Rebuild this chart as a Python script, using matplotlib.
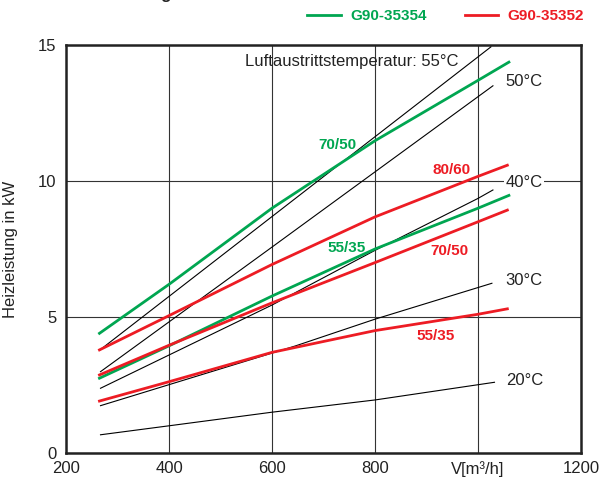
import matplotlib
matplotlib.use("Agg")
import matplotlib.pyplot as plt
from matplotlib.lines import Line2D

plt.rcParams["font.family"] = ["Liberation Sans", "DejaVu Sans"]

# Heating capacity curves (x: air flow m3/h, y: kW)
green_x = [265, 400, 600, 800, 1000, 1060]
green_70_50 = [4.4, 6.2, 9.0, 11.48, 13.7, 14.37]
green_55_35 = [2.75, 3.94, 5.77, 7.5, 9.0, 9.47]

red_x = [265, 400, 600, 800, 1000, 1057]
red_80_60 = [3.79, 5.05, 6.93, 8.68, 10.17, 10.58]
red_70_50 = [2.87, 3.96, 5.52, 7.0, 8.5, 8.93]
red_55_35 = [1.91, 2.62, 3.7, 4.5, 5.1, 5.3]

# Air outlet temperature lines
t55_x, t55 = [266, 1025], [3.79, 14.93]
t50_x, t50 = [267, 592, 1029], [2.99, 7.46, 13.5]
t40_x, t40 = [267, 600, 800, 1000, 1029], [2.38, 5.44, 7.45, 9.36, 9.67]
t30_x, t30 = [267, 646, 800, 1027], [1.74, 3.94, 4.92, 6.24]
t20_x, t20 = [267, 400, 600, 800, 1032], [0.67, 1.0, 1.5, 1.95, 2.6]

x_ticks = [200, 400, 600, 800, 1000, 1200]
x_labels = ["200", "400", "600", "800", "V[m³/h]", "1200"]
y_ticks = [0, 5, 10, 15]

GREEN = "#00a651"
RED = "#ed1c24"

fig = plt.figure(figsize=(6, 4.82), dpi=100)
ax = fig.add_axes([66 / 600, 29 / 482, 515 / 600, 408 / 482])

for xs, ys in [(t55_x, t55), (t50_x, t50), (t40_x, t40), (t30_x, t30), (t20_x, t20)]:
    ax.plot(xs, ys, color="black", lw=0.8, zorder=3)

ax.plot(green_x, green_70_50, color=GREEN, lw=2, zorder=4)
ax.plot(green_x, green_55_35, color=GREEN, lw=2, zorder=4)
ax.plot(red_x, red_80_60, color=RED, lw=2, zorder=4)
ax.plot(red_x, red_70_50, color=RED, lw=2, zorder=4)
ax.plot(red_x, red_55_35, color=RED, lw=2, zorder=4)

ax.set_xlim(200, 1200)
ax.set_ylim(0, 15)
ax.set_xticks(x_ticks)
ax.set_xticklabels(x_labels)
ax.set_yticks(y_ticks)
ax.tick_params(length=0, labelsize=12, colors="#222222")
ax.tick_params(axis="x", pad=6)
ax.tick_params(axis="y", pad=7)
ax.grid(True, color="#333333", lw=0.8, zorder=1)
for s in ax.spines.values():
    s.set_linewidth(1.8)
    s.set_color("#222222")
ax.set_ylabel("Heizleistung in kW", fontsize=12, labelpad=14, color="#222222")

# annotations
ax.text(547, 14.41, "Luftaustrittstemperatur: 55°C", fontsize=12, va="center", color="#222222")
ax.text(1054, 13.64, "50°C", fontsize=12, va="center", color="#222222")
ax.text(1054, 9.96, "40°C", fontsize=12, va="center", color="#222222",
        bbox=dict(facecolor="white", edgecolor="none", pad=1), zorder=5)
ax.text(1054, 6.36, "30°C", fontsize=12, va="center", color="#222222")
ax.text(1054, 2.65, "20°C", fontsize=12, va="center", color="#222222")

ax.text(727, 11.32, "70/50", fontsize=11, fontweight="bold", color=GREEN, ha="center", va="center")
ax.text(744, 7.55, "55/35", fontsize=11, fontweight="bold", color=GREEN, ha="center", va="center")
ax.text(948, 10.4, "80/60", fontsize=11, fontweight="bold", color=RED, ha="center", va="center")
ax.text(944, 7.44, "70/50", fontsize=11, fontweight="bold", color=RED, ha="center", va="center")
ax.text(918, 4.31, "55/35", fontsize=11, fontweight="bold", color=RED, ha="center", va="center")

# legend
handles = [Line2D([], [], color=GREEN, lw=2), Line2D([], [], color=RED, lw=2)]
leg = fig.legend(handles, ["G90-35354", "G90-35352"], loc="center right",
                 bbox_to_anchor=(584 / 600, 1 - 16.5 / 482), ncol=2, frameon=False,
                 prop={"size": 11, "weight": "bold"}, borderpad=0, borderaxespad=0,
                 handlelength=2.2, handletextpad=0.6, columnspacing=2.5)
for txt, c in zip(leg.get_texts(), [GREEN, RED]):
    txt.set_color(c)

# title cut off at the top edge (as in the reference)
fig.text(172 / 600, 1 + 0.5 / 482, "Heizleistung", fontsize=12, fontweight="bold",
         ha="right", va="baseline", color="#222222")

fig.savefig("out.png", dpi=100)
